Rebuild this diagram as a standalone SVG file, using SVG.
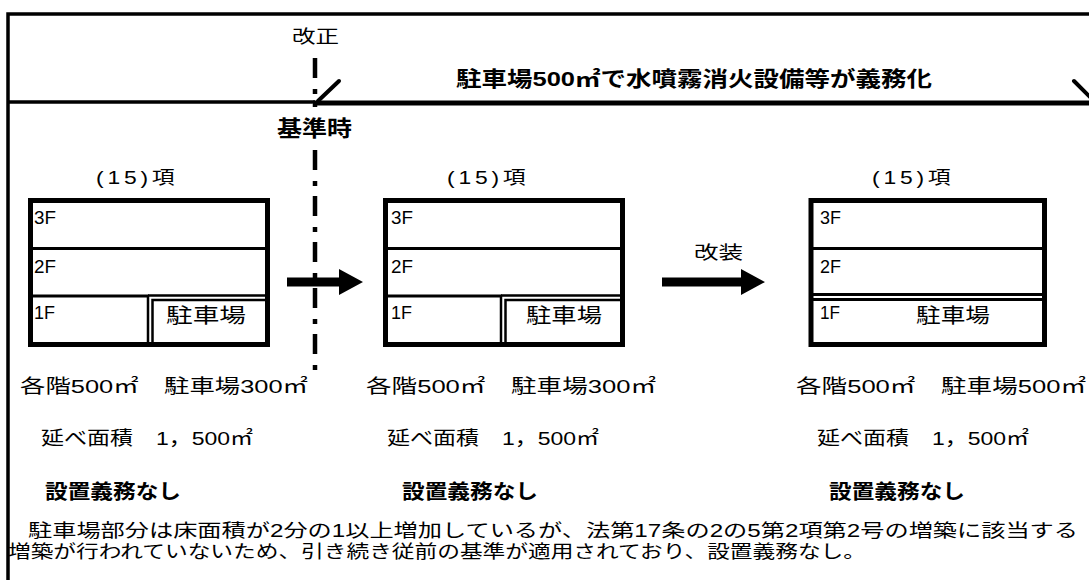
<svg xmlns="http://www.w3.org/2000/svg" width="1089" height="580" viewBox="0 0 1089 580">
<style>
text { font-family: "Liberation Sans", "Noto Sans CJK JP", sans-serif; fill: #000; }
.b { font-weight: bold; }
.fl { font-size: 19px; }
.jp { font-size: 20px; }
.hd { font-size: 18px; }
.kou { font-size: 18px; letter-spacing: 3px; }
.cap { font-size: 19px; }
.par { font-size: 18px; }
.box { fill: #fff; stroke: #000; stroke-width: 5; }
.ln { stroke: #000; stroke-width: 3; fill: none; }
.dl { stroke: #000; stroke-width: 2.5; fill: none; }
.arrow { fill: #000; stroke: none; }
</style>
<rect x="0" y="0" width="1089" height="580" fill="#fff"/>

<g id="frame" fill="none" stroke="#000">
  <path d="M8 580 V14 H1089" stroke-width="3.5"/>
  <line x1="8" y1="102" x2="315" y2="102" stroke-width="3.5"/>
  <line x1="313" y1="103" x2="1089" y2="103" stroke-width="5"/>
  <line x1="318" y1="101" x2="339" y2="81" stroke-width="4" stroke-linecap="round"/>
  <line x1="1074" y1="81" x2="1093" y2="100" stroke-width="4" stroke-linecap="round"/>
</g>

<g id="connectors">
  <line id="kaisei-line" x1="315" y1="58" x2="315" y2="371" stroke="#000" stroke-width="4.5" stroke-dasharray="20 11 5 10"/>
  <path id="arrow-1" class="arrow" d="M287 277.5 H339 V269 L363 282 L339 295 V286.5 H287 Z"/>
  <path id="arrow-2" class="arrow" d="M662 277.5 H741 V269 L765 282 L741 295 V286.5 H662 Z"/>
</g>

<g id="label-kaisei">
  <text class="hd" x="292" y="43" textLength="47" lengthAdjust="spacingAndGlyphs">改正</text>
</g>

<g id="label-kijunji">
  <rect x="274" y="107" width="82" height="40" fill="#fff"/>
  <text class="b" font-size="22" x="277" y="136" textLength="75" lengthAdjust="spacingAndGlyphs">基準時</text>
</g>

<g id="title">
  <text class="b" font-size="21" x="456" y="86" textLength="476" lengthAdjust="spacingAndGlyphs">駐車場500㎡で水噴霧消火設備等が義務化</text>
</g>

<g id="building-1">
  <text class="kou" transform="translate(96,184) scale(1.27,1)">(15)項</text>
  <rect class="box" x="30.5" y="200.5" width="237" height="144"/>
  <line class="ln" x1="30" y1="248.5" x2="268" y2="248.5"/>
  <line class="ln" x1="30" y1="296" x2="149" y2="296"/>
  <path class="dl" d="M148 296 V345 M148 295.5 H268 M152.5 345 V300 H268"/>
  <text class="fl" x="34" y="224" textLength="22" lengthAdjust="spacingAndGlyphs">3F</text>
  <text class="fl" x="34" y="273" textLength="22" lengthAdjust="spacingAndGlyphs">2F</text>
  <text class="fl" x="34" y="319" textLength="21" lengthAdjust="spacingAndGlyphs">1F</text>
  <text class="jp" x="166" y="323" textLength="80" lengthAdjust="spacingAndGlyphs">駐車場</text>
</g>

<g id="building-2">
  <text class="kou" transform="translate(447,184) scale(1.27,1)">(15)項</text>
  <rect class="box" x="385.5" y="200.5" width="237" height="144"/>
  <line class="ln" x1="385" y1="248.5" x2="623" y2="248.5"/>
  <line class="ln" x1="385" y1="296" x2="502" y2="296"/>
  <path class="dl" d="M501 296 V345 M501 295.5 H623 M505.5 345 V300 H623"/>
  <text class="fl" x="391" y="224" textLength="22" lengthAdjust="spacingAndGlyphs">3F</text>
  <text class="fl" x="391" y="273" textLength="22" lengthAdjust="spacingAndGlyphs">2F</text>
  <text class="fl" x="391" y="319" textLength="21" lengthAdjust="spacingAndGlyphs">1F</text>
  <text class="jp" x="526" y="323" textLength="76" lengthAdjust="spacingAndGlyphs">駐車場</text>
</g>

<g id="label-kaisou">
  <text class="hd" x="694" y="259" textLength="49" lengthAdjust="spacingAndGlyphs">改装</text>
</g>

<g id="building-3">
  <text class="kou" transform="translate(872,184) scale(1.27,1)">(15)項</text>
  <rect class="box" x="811" y="200.5" width="233.5" height="144"/>
  <line class="ln" x1="811" y1="248.5" x2="1045" y2="248.5"/>
  <line class="ln" x1="811" y1="294.5" x2="1045" y2="294.5"/>
  <line class="ln" x1="811" y1="299.5" x2="1045" y2="299.5"/>
  <text class="fl" x="820" y="224" textLength="21" lengthAdjust="spacingAndGlyphs">3F</text>
  <text class="fl" x="820" y="273" textLength="21" lengthAdjust="spacingAndGlyphs">2F</text>
  <text class="fl" x="820" y="319" textLength="20" lengthAdjust="spacingAndGlyphs">1F</text>
  <text class="jp" x="916" y="323" textLength="74" lengthAdjust="spacingAndGlyphs">駐車場</text>
</g>

<g id="caption-1">
  <text class="cap" x="20" y="393" textLength="288" lengthAdjust="spacingAndGlyphs">各階500㎡　駐車場300㎡</text>
  <text class="cap" x="41" y="445" textLength="212" lengthAdjust="spacingAndGlyphs">延べ面積　1，500㎡</text>
  <text class="b" font-size="20" x="45" y="499" textLength="136" lengthAdjust="spacingAndGlyphs">設置義務なし</text>
</g>

<g id="caption-2">
  <text class="cap" x="366" y="393" textLength="290" lengthAdjust="spacingAndGlyphs">各階500㎡　駐車場300㎡</text>
  <text class="cap" x="387" y="445" textLength="212" lengthAdjust="spacingAndGlyphs">延べ面積　1，500㎡</text>
  <text class="b" font-size="20" x="402" y="499" textLength="136" lengthAdjust="spacingAndGlyphs">設置義務なし</text>
</g>

<g id="caption-3">
  <text class="cap" x="796" y="393" textLength="290" lengthAdjust="spacingAndGlyphs">各階500㎡　駐車場500㎡</text>
  <text class="cap" x="817" y="445" textLength="212" lengthAdjust="spacingAndGlyphs">延べ面積　1，500㎡</text>
  <text class="b" font-size="20" x="829" y="499" textLength="136" lengthAdjust="spacingAndGlyphs">設置義務なし</text>
</g>

<g id="note">
  <text class="par" x="28" y="537" textLength="1050" lengthAdjust="spacingAndGlyphs">駐車場部分は床面積が2分の1以上増加しているが、法第17条の2の5第2項第2号の増築に該当する</text>
  <text class="par" x="8" y="558" textLength="858" lengthAdjust="spacingAndGlyphs">増築が行われていないため、引き続き従前の基準が適用されており、設置義務なし。</text>
</g>
</svg>
